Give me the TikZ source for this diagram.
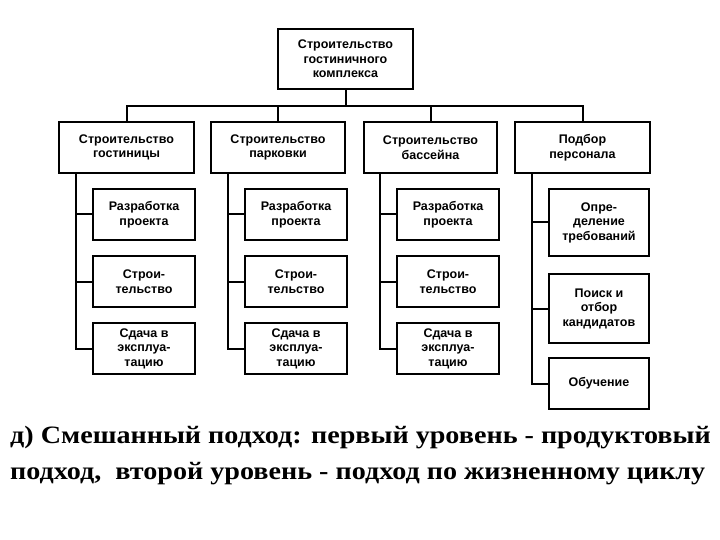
\documentclass[tikz,border=0pt]{standalone}
\usepackage{fontspec}
\setmainfont{Liberation Sans}
\newfontfamily\capf{Liberation Serif}
\begin{document}
\begin{tikzpicture}[x=1pt,y=-1pt,
  bx/.style={draw,line width=2.2pt,align=center,inner sep=0pt,font=\fontsize{12.5}{14.5}\selectfont\bfseries},
  ln/.style={line width=2pt}]
\useasboundingbox (0,0) rectangle (720,540);
\fill[white] (0,0) rectangle (720,540);
\def\B#1#2#3#4#5#6{\node[bx,minimum width=#4-#2,minimum height=#5-#3] (#1) at ({(#2+#4)/2},{(#3+#5)/2}) {#6};}
\B{top}{278}{29}{413}{89}{Строительство\\гостиничного\\комплекса}
\B{a}{59}{122}{194}{173}{Строительство\\гостиницы}
\B{b}{211}{122}{345}{173}{Строительство\\парковки}
\B{c}{364}{122}{497}{173}{Строительство\\бассейна}
\B{d}{515}{122}{650}{173}{Подбор\\персонала}
\foreach \n/\l/\r in {a/93/195,b/245/347,c/397/499}{
 \B{\n1}{\l}{189}{\r}{240}{Разработка\\проекта}
 \B{\n2}{\l}{256}{\r}{307}{Строи-\\тельство}
 \B{\n3}{\l}{323}{\r}{374}{Сдача в\\эксплуа-\\тацию}
}
\B{d1}{549}{189}{649}{256}{Опре-\\деление\\требований}
\B{d2}{549}{274}{649}{343}{Поиск и\\отбор\\кандидатов}
\B{d3}{549}{358}{649}{409}{Обучение}
\coordinate (bus) at (top.south|-0,106);
\draw[ln] (top.south) -- (bus);
\draw[ln] (a.north) |- (d.north|-bus) -- (d.north);
\draw[ln] (b.north) -- (b.north|-bus);
\draw[ln] (c.north) -- (c.north|-bus);
\foreach \n/\x in {a/76,b/228,c/380}{
 \draw[ln] (\x,173) |- (\n3.west);
 \draw[ln] (\x,0|-\n1.west) -- (\n1.west);
 \draw[ln] (\x,0|-\n2.west) -- (\n2.west);
}
\draw[ln] (532,173) |- (d3.west);
\draw[ln] (532,0|-d1.west) -- (d1.west);
\draw[ln] (532,0|-d2.west) -- (d2.west);
\node[font=\capf\fontsize{25}{36}\selectfont\bfseries,align=left,anchor=north west,inner sep=0pt,xscale=1.125] (cap) at (10,426)
 {д) Смешанный подход: первый уровень - продуктовый\\подход,\ \ второй уровень - подход по жизненному циклу};
\end{tikzpicture}
\end{document}
